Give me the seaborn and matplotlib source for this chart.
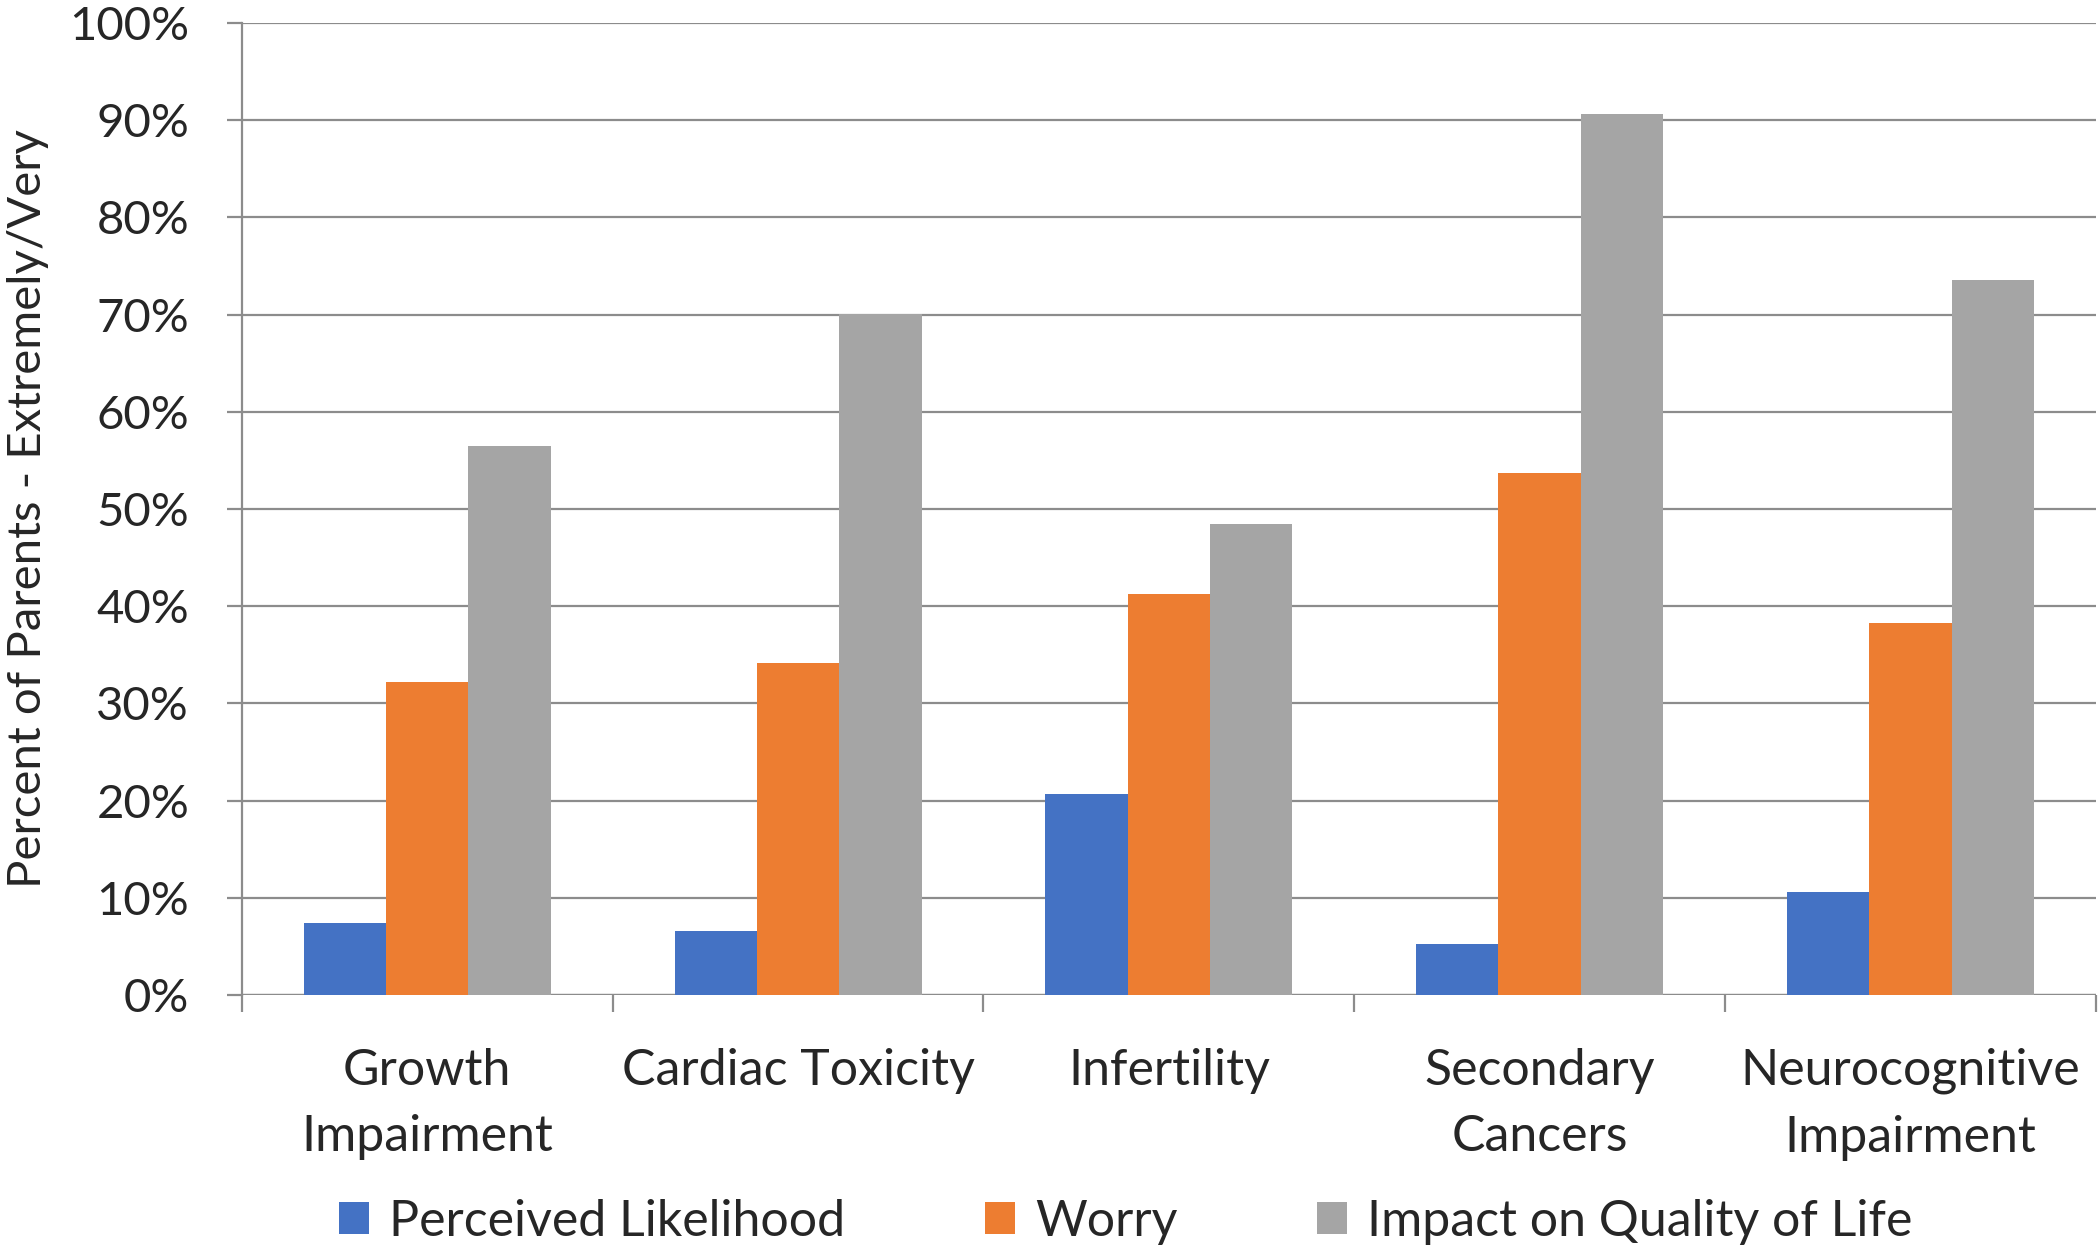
import pandas as pd
import matplotlib
matplotlib.use("Agg")
import matplotlib.pyplot as plt
import seaborn as sns
from matplotlib.ticker import PercentFormatter, FixedLocator

# --- data ---
categories = ["Growth\nImpairment", "Cardiac Toxicity", "Infertility",
              "Secondary\nCancers", "Neurocognitive\nImpairment"]
series_names = ["Perceived Likelihood", "Worry", "Impact on Quality of Life"]
likelihood = [7.4, 6.6, 20.7, 5.2, 10.6]
worry = [32.2, 34.2, 41.3, 53.7, 38.3]
impact = [56.5, 70.1, 48.5, 90.6, 73.6]
colors = ["#4472C4", "#ED7D31", "#A5A5A5"]

rows = []
for name, vals in zip(series_names, [likelihood, worry, impact]):
    for cat, v in zip(categories, vals):
        rows.append({"category": cat, "series": name, "value": v / 100})
df = pd.DataFrame(rows)

sns.set_style("white")
plt.rcParams['font.family'] = ['Lato', 'DejaVu Sans']

fig = plt.figure(figsize=(21, 12.49), dpi=100)
ax = fig.add_axes([0.1152, 0.2034, 0.8828, 0.7782])

sns.barplot(data=df, x="category", y="value", hue="series", order=categories,
            hue_order=series_names, palette=colors, width=0.666,
            saturation=1, linewidth=0, ax=ax)

ax.set_ylim(0, 1)
ax.set_xlim(-0.5, len(categories) - 0.5)
ax.yaxis.set_major_locator(FixedLocator([i / 10 for i in range(11)]))
ax.yaxis.set_major_formatter(PercentFormatter(1.0, decimals=0))
ax.grid(axis="y", color="#8c8c8c", linewidth=1.6)
ax.set_axisbelow(True)

for side in ["top", "right", "bottom"]:
    ax.spines[side].set_visible(False)
ax.spines["left"].set_color("#8c8c8c")
ax.spines["left"].set_linewidth(1.6)
ax.axhline(0, color="#8c8c8c", linewidth=1.6, zorder=0)

ax.tick_params(axis="y", length=11, width=1.6, color="#8c8c8c",
               labelsize=34, pad=27, left=True)
ax.tick_params(axis="x", which="major", length=0, labelsize=36, pad=38)
ax.set_xticks([i - 0.5 for i in range(len(categories) + 1)], minor=True)
ax.tick_params(axis="x", which="minor", length=12, width=1.6, color="#8c8c8c",
               bottom=True)
for lab in ax.get_xticklabels():
    lab.set_linespacing(1.55)

ax.set_xlabel("")
ax.set_ylabel("Percent of Parents - Extremely/Very", fontsize=34)
ax.yaxis.set_label_coords(-0.104, 0.5)

handles, labels = ax.get_legend_handles_labels()
ax.legend_.remove()
fig.legend(handles, labels, loc="center", bbox_to_anchor=(0.536, 0.022),
           ncol=3, frameon=False, fontsize=36, handlelength=0.6,
           handleheight=0.6, handletextpad=0.4, columnspacing=2.8)

fig.savefig("out.png", dpi=100)
